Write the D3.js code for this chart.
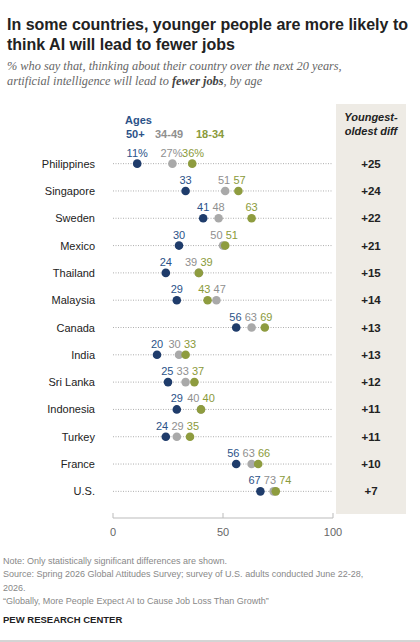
<!DOCTYPE html>
<html><head><meta charset="utf-8">
<script src="https://cdn.jsdelivr.net/npm/d3@7"></script>
<style>body{margin:0;background:#fff;font-family:"Liberation Sans",Arial,sans-serif}</style>
</head><body><svg id="c" width="420" height="642"></svg>
<script>
const countries=["Philippines","Singapore","Sweden","Mexico","Thailand","Malaysia","Canada","India","Sri Lanka","Indonesia","Turkey","France","U.S."];
const age50=[11,33,41,30,24,29,56,20,25,29,24,56,67];
const age3449=[27,51,48,50,39,47,63,30,33,40,29,63,73];
const age1834=[36,57,63,51,39,43,69,33,37,40,35,66,74];
const diffs=["+25","+24","+22","+21","+15","+14","+13","+13","+12","+11","+11","+10","+7"];
const ticks=[0,50,100];
const series=[{name:"50+",vals:age50,dot:"#1f3c6b",txt:"#2b5288"},{name:"34-49",vals:age3449,dot:"#a9a9a9",txt:"#8f8f8f"},{name:"18-34",vals:age1834,dot:"#8e9c3f",txt:"#8a9a3a"}];
const svg=d3.select("#c");
const x=d3.scaleLinear().domain([0,100]).range([113,333]);
const y=d3.scaleBand().domain(countries).range([150,505]);
const yc=c=>y(c)+y.bandwidth()/2;
svg.append("text").attr("x",7).attr("y",30).attr("font-size",16).attr("font-weight","bold").attr("fill","#222").text("In some countries, younger people are more likely to");
svg.append("text").attr("x",7).attr("y",50).attr("font-size",16).attr("font-weight","bold").attr("fill","#222").text("think AI will lead to fewer jobs");
const sub=svg.append("g").attr("font-family","Liberation Serif,serif").attr("font-style","italic").attr("font-size",12.3).attr("fill","#666");
sub.append("text").attr("x",7).attr("y",70).text("% who say that, thinking about their country over the next 20 years,");
const t2=sub.append("text").attr("x",7).attr("y",85);
t2.append("tspan").text("artificial intelligence will lead to ");
t2.append("tspan").attr("font-weight","bold").attr("fill","#444").text("fewer jobs");
t2.append("tspan").text(", by age");
svg.append("rect").attr("x",336).attr("y",104).attr("width",70).attr("height",410).attr("fill","#eeebe5");
svg.append("text").attr("x",371).attr("y",121).attr("text-anchor","middle").attr("font-size",11).attr("font-weight","bold").attr("font-style","italic").attr("fill","#222").text("Youngest-");
svg.append("text").attr("x",371).attr("y",135).attr("text-anchor","middle").attr("font-size",11).attr("font-weight","bold").attr("font-style","italic").attr("fill","#222").text("oldest diff");
svg.append("text").attr("x",125).attr("y",124).attr("font-size",11).attr("font-weight","bold").attr("fill","#2b5288").text("Ages");
[["50+",126],["34-49",155],["18-34",196]].forEach((d,i)=>svg.append("text").attr("x",d[1]).attr("y",138).attr("font-size",11).attr("font-weight","bold").attr("fill",series[i].txt).text(d[0]));
const rows=svg.selectAll("g.row").data(countries).join("g");
rows.append("text").attr("x",95).attr("y",c=>yc(c)+4).attr("text-anchor","end").attr("font-size",11).attr("fill","#222").text(c=>c);
rows.append("line").attr("x1",x(0)).attr("x2",x(100)).attr("y1",yc).attr("y2",yc).attr("stroke","#999").attr("stroke-width",0.8).attr("stroke-dasharray","1,1.5");
rows.append("text").attr("x",371).attr("y",c=>yc(c)+4).attr("text-anchor","middle").attr("font-size",11.5).attr("font-weight","bold").attr("fill","#222").text((c,i)=>diffs[i]);
series.forEach(s=>{
  svg.selectAll(null).data(countries).join("circle").attr("cx",(c,i)=>x(s.vals[i])).attr("cy",yc).attr("r",4.3).attr("fill",s.dot);
});
countries.forEach((c,i)=>{
  const labs=series.map(s=>{const t=s.vals[i]+(i===0?"%":"");return {v:s.vals[i],t,col:s.txt,px:x(s.vals[i]),w:t.length*6.2+3};});
  labs.sort((a,b)=>a.v-b.v);
  for(let it=0;it<50;it++){
    for(let k=1;k<labs.length;k++){
      const need=(labs[k].w+labs[k-1].w)/2, gap=labs[k].px-labs[k-1].px;
      if(gap<need){const d=(need-gap)/2;labs[k].px+=d;labs[k-1].px-=d;}
    }
  }
  labs.forEach(l=>svg.append("text").attr("x",l.px).attr("y",yc(c)-7).attr("text-anchor","middle").attr("font-size",11).attr("fill",l.col).text(l.t));
});
const ax=svg.append("g").attr("transform","translate(0,518)");
ax.append("line").attr("x1",x(0)).attr("x2",x(100)).attr("stroke","#bbb");
ax.selectAll(null).data(ticks).join("line").attr("x1",x).attr("x2",x).attr("y1",-5).attr("y2",0).attr("stroke","#bbb");
ax.selectAll(null).data(ticks).join("text").attr("x",x).attr("y",18).attr("text-anchor","middle").attr("font-size",11).attr("fill","#666").text(d=>d);
const notes=["Note: Only statistically significant differences are shown.","Source: Spring 2026 Global Attitudes Survey; survey of U.S. adults conducted June 22-28,","2026.","“Globally, More People Expect AI to Cause Job Loss Than Growth”"];
notes.forEach((n,i)=>svg.append("text").attr("x",3).attr("y",564+i*13.4).attr("font-size",9).attr("fill","#888").text(n));
svg.append("text").attr("x",3).attr("y",623).attr("font-size",9.5).attr("font-weight","bold").attr("fill","#222").text("PEW RESEARCH CENTER");
svg.append("line").attr("x1",0).attr("x2",420).attr("y1",641).attr("y2",641).attr("stroke","#aaa");
</script></body></html>
